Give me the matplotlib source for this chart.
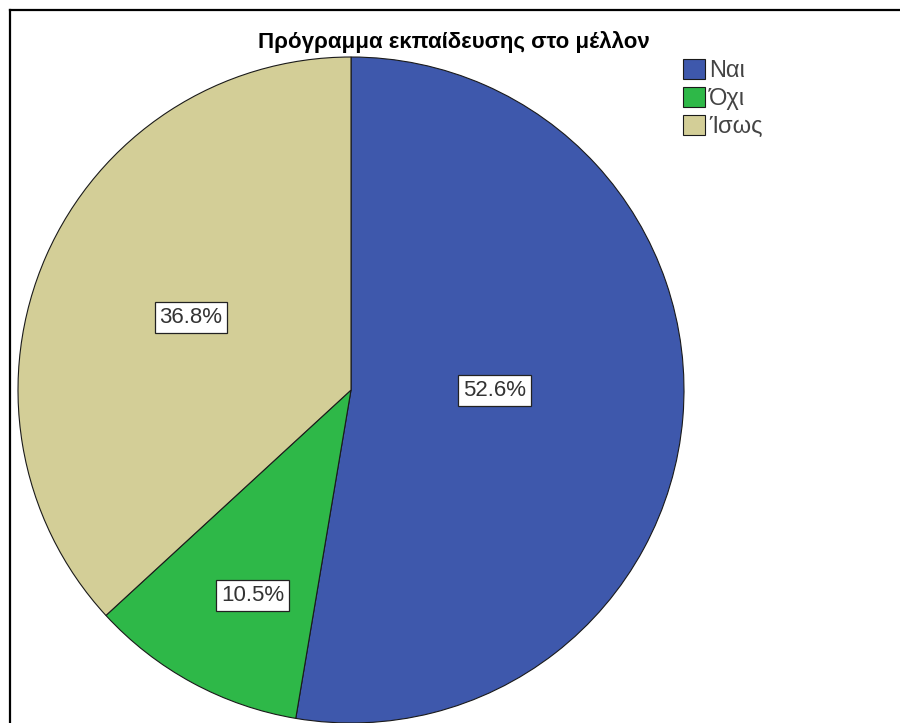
import numpy as np
import matplotlib
matplotlib.use("Agg")
from matplotlib import pyplot as plt
from matplotlib.lines import Line2D

plt.rcParams['font.family'] = ['Liberation Sans', 'DejaVu Sans']

# data
categories = ["Ναι", "Όχι", "Ίσως"]
percentages = [52.6, 10.5, 36.8]
colors = ["#3E58AC", "#2EB848", "#D3CE97"]
title = "Πρόγραμμα εκπαίδευσης στο μέλλον"

W, H = 900, 723
fig = plt.figure(figsize=(W / 100, H / 100), dpi=100)
fig.patch.set_facecolor("white")

# pie axes: centre (351, 390), radius 333 px
cx, cy, r = 351, 390, 333
ax = fig.add_axes([(cx - r) / W, (H - cy - r) / H, 2 * r / W, 2 * r / H])
wedges, _ = ax.pie(percentages, colors=colors, startangle=90, counterclock=False,
                   radius=1, wedgeprops=dict(edgecolor="#1a1a1a", linewidth=0.8))
ax.set_xlim(-1, 1)
ax.set_ylim(-1, 1)
ax.set_aspect("equal")
ax.axis("off")

# percentage labels in boxes (radial distance and small angular nudge)
label_dist = [0.432, 0.684, 0.527]
label_shift = [4.7, 2.8, -0.6]
for w, p, d, s in zip(wedges, percentages, label_dist, label_shift):
    mid = np.deg2rad((w.theta1 + w.theta2) / 2 + s)
    ax.text(d * np.cos(mid), d * np.sin(mid), f"{p:.1f}%",
            ha="center", va="center", fontsize=16, color="#333333",
            bbox=dict(boxstyle="square,pad=0.22", facecolor="white",
                      edgecolor="#222222", linewidth=0.9))

fig.text(454 / W, 1 - 42 / H, title, ha="center", va="center",
         fontsize=16, fontweight="bold", color="black")

fig.legend(wedges, categories, loc="upper left",
           bbox_to_anchor=(683 / W, 1 - 59 / H), frameon=False,
           fontsize=17, handlelength=0.95, handleheight=0.95,
           handletextpad=0.15, labelspacing=0.2, borderpad=0,
           borderaxespad=0, labelcolor="#444444")

# outer frame (top and left edges visible)
fig.add_artist(Line2D([10 / W, 1], [1 - 10 / H, 1 - 10 / H], color="black",
                      linewidth=1.6, transform=fig.transFigure))
fig.add_artist(Line2D([10 / W, 10 / W], [0, 1 - 10 / H], color="black",
                      linewidth=1.6, transform=fig.transFigure))

plt.savefig("out.png", dpi=100)
